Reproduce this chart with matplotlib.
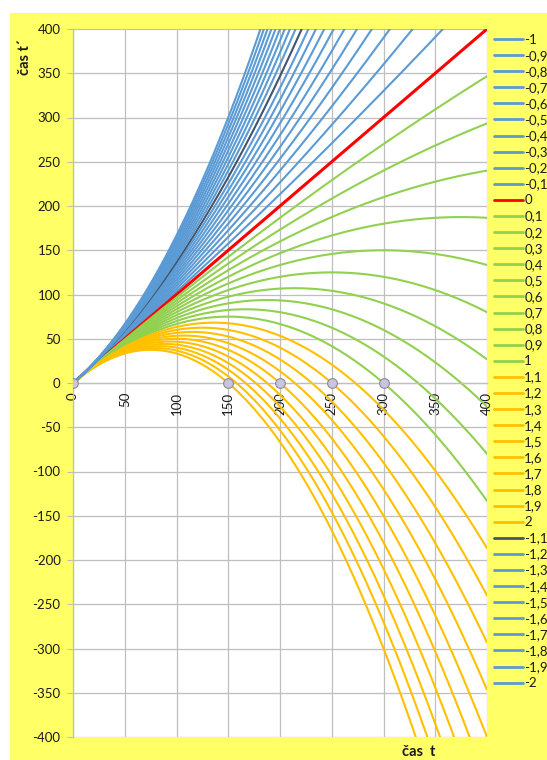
import matplotlib
import numpy as np

matplotlib.use("Agg")
import matplotlib.pyplot as plt
from matplotlib.patches import Rectangle

# parameter k of each series, in the order the series were added
K_VALUES = [-1, -0.9, -0.8, -0.7, -0.6, -0.5, -0.4, -0.3, -0.2, -0.1, 0,
            0.1, 0.2, 0.3, 0.4, 0.5, 0.6, 0.7, 0.8, 0.9, 1,
            1.1, 1.2, 1.3, 1.4, 1.5, 1.6, 1.7, 1.8, 1.9, 2,
            -1.1, -1.2, -1.3, -1.4, -1.5, -1.6, -1.7, -1.8, -1.9, -2]
# t' = t - k * t^2 / SCALE  (k = 1 crosses zero at t = 300)
SCALE = 300
T_VALUES = np.linspace(0, 400, 401)
MARKER_T = [0, 150, 200, 250, 300]
MARKER_TP = [0, 0, 0, 0, 0]

BLUE = "#5B9BD5"
DARK = "#44546A"
RED = "#FF0000"
GREEN = "#92D050"
ORANGE = "#FFC000"
YELLOW = "#FFFF66"
GRID = "#BFBFBF"
TEXT = "#1A1A1A"


def series_color(k):
    if k == -1.1:
        return DARK
    if k < 0:
        return BLUE
    if k == 0:
        return RED
    if k <= 1:
        return GREEN
    return ORANGE


def label_of(k):
    text = f"{k:g}".replace(".", ",")
    return text


plt.rcParams["font.family"] = ["Lato", "DejaVu Sans"]
plt.rcParams["axes.unicode_minus"] = False
W, H = 547, 760
fig = plt.figure(figsize=(W / 100, H / 100), dpi=100, facecolor="white")
fig.patches.append(Rectangle((10 / W, 0), 1 - 10 / W, 1 - 13 / H,
                             transform=fig.transFigure, facecolor=YELLOW,
                             edgecolor="none", zorder=-10))

left, right, top, bottom = 73, 487, 29, 737
ax = fig.add_axes([left / W, 1 - bottom / H, (right - left) / W, (bottom - top) / H])
ax.set_facecolor("white")

for k in K_VALUES:
    tp = T_VALUES - k * T_VALUES ** 2 / SCALE
    lw = 2.2 if k == 0 else 1.5
    ax.plot(T_VALUES, tp, color=series_color(k), lw=lw, label=label_of(k),
            solid_capstyle="round")

ax.plot(MARKER_T, MARKER_TP, linestyle="none", marker="o", ms=7,
        markerfacecolor="#C9C4E2", markeredgecolor="#8C8C8C", mew=0.8, zorder=5)

ax.set_xlim(0, 400)
ax.set_ylim(-400, 400)
ax.set_xticks(np.arange(0, 401, 50))
ax.set_yticks(np.arange(-400, 401, 50))
ax.grid(True, color=GRID, lw=0.9)
ax.set_axisbelow(True)

for side in ("top", "right"):
    ax.spines[side].set_visible(False)
ax.spines["bottom"].set_position(("data", 0))
ax.spines["bottom"].set_color(GRID)
ax.spines["left"].set_color(GRID)
ax.spines["left"].set_linewidth(0.9)
ax.spines["bottom"].set_linewidth(0.9)

ax.tick_params(axis="y", length=4, color=GRID, pad=5, labelsize=9.5, labelcolor=TEXT)
ax.tick_params(axis="x", length=0, pad=6.5, labelsize=9.5, labelcolor=TEXT,
               labelrotation=90)

fig.text(25 / W, 1 - 57 / H, "čas t´", rotation=90, ha="center", va="center",
         fontsize=10.5, weight="bold", color=TEXT)
fig.text(419 / W, 1 - 752 / H, "čas  t", ha="center", va="center",
         fontsize=10.5, weight="bold", color=TEXT)

leg = fig.legend(loc="upper left", bbox_to_anchor=(487 / W, 1 - 27 / H),
                 frameon=False, fontsize=9.5, handlelength=2.2,
                 handletextpad=0.12, labelspacing=0.31, borderpad=0,
                 labelcolor=TEXT)
for line in leg.get_lines():
    line.set_linewidth(2)

fig.savefig("out.png", dpi=100, facecolor="white")
